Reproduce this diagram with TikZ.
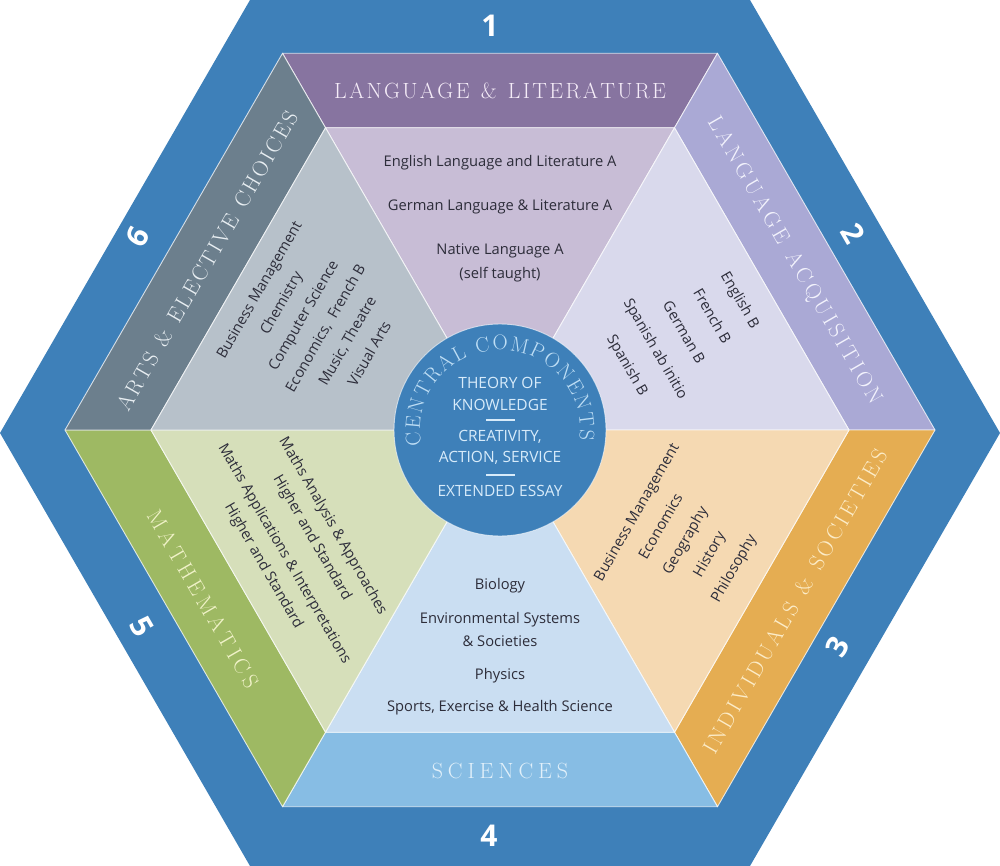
\documentclass[tikz,border=0pt]{standalone}
\usepackage{fontspec}
\newfontfamily\bodyfont{Open Sans}
\usetikzlibrary{decorations.text}
\ExplSyntaxOn
\NewDocumentCommand\spaced{mm}{\str_map_inline:nn{#2}{##1\kern#1\relax}\kern-#1\relax}
\ExplSyntaxOff
\definecolor{hexblue}{RGB}{62,128,185}
\definecolor{bandLL}{RGB}{135,116,160}
\definecolor{triLL}{RGB}{200,189,214}
\definecolor{bandLA}{RGB}{170,169,213}
\definecolor{triLA}{RGB}{217,217,236}
\definecolor{bandIS}{RGB}{229,173,82}
\definecolor{triIS}{RGB}{245,217,178}
\definecolor{bandSCI}{RGB}{135,189,228}
\definecolor{triSCI}{RGB}{202,222,242}
\definecolor{bandMA}{RGB}{158,185,99}
\definecolor{triMA}{RGB}{214,223,186}
\definecolor{bandAR}{RGB}{108,127,141}
\definecolor{triAR}{RGB}{183,193,202}
\definecolor{hdrLL}{RGB}{245,236,248}
\definecolor{hdrLA}{RGB}{242,242,252}
\definecolor{hdrIS}{RGB}{252,236,200}
\definecolor{hdrSCI}{RGB}{225,240,250}
\definecolor{hdrMA}{RGB}{240,242,200}
\definecolor{hdrAR}{RGB}{232,238,242}
\definecolor{bodytxt}{RGB}{45,45,58}
\definecolor{centtxt}{RGB}{215,235,250}
\definecolor{arctxt}{RGB}{190,222,245}
\begin{document}
\begin{tikzpicture}[x=1pt,y=-1pt,
  region/.style={draw=white, draw opacity=0.75, line width=0.9pt, line join=round},
  hdr/.style={inner sep=0pt, font=\rmfamily\fontsize{22}{22}\selectfont},
  body/.style={inner sep=0pt, align=center, text=bodytxt},
  num/.style={inner sep=0pt, text=white, font=\bodyfont\bfseries\fontsize{30}{30}\selectfont},
  centre/.style={inner sep=0pt, align=center, text=centtxt, font=\bodyfont\fontsize{15.5}{21.5}\selectfont},
  rule/.style={draw=centtxt, line width=1.2pt},
]
\useasboundingbox (0,0) rectangle (1000,866);
% outer hexagon
\fill[hexblue] (0,433) -- (250,0) -- (750,0) -- (1000,433) -- (750,866) -- (250,866) -- cycle;
% coordinates
\coordinate (C) at (500,430);
\coordinate (V0) at (935,430);
\coordinate (V1) at (717.5,53.3);
\coordinate (V2) at (282.5,53.3);
\coordinate (V3) at (65,430);
\coordinate (V4) at (282.5,806.7);
\coordinate (V5) at (717.5,806.7);
\coordinate (W0) at (849,430);
\coordinate (W1) at (674.5,127.8);
\coordinate (W2) at (325.5,127.8);
\coordinate (W3) at (151,430);
\coordinate (W4) at (325.5,732.2);
\coordinate (W5) at (674.5,732.2);
% bands
\filldraw[region, fill=bandLL] (V2) -- (V1) -- (W1) -- (W2) -- cycle;
\filldraw[region, fill=bandLA] (V1) -- (V0) -- (W0) -- (W1) -- cycle;
\filldraw[region, fill=bandIS] (V0) -- (V5) -- (W5) -- (W0) -- cycle;
\filldraw[region, fill=bandSCI] (V5) -- (V4) -- (W4) -- (W5) -- cycle;
\filldraw[region, fill=bandMA] (V4) -- (V3) -- (W3) -- (W4) -- cycle;
\filldraw[region, fill=bandAR] (V3) -- (V2) -- (W2) -- (W3) -- cycle;
% triangles
\filldraw[region, fill=triLL] (C) -- (W2) -- (W1) -- cycle;
\filldraw[region, fill=triLA] (C) -- (W1) -- (W0) -- cycle;
\filldraw[region, fill=triIS] (C) -- (W0) -- (W5) -- cycle;
\filldraw[region, fill=triSCI] (C) -- (W5) -- (W4) -- cycle;
\filldraw[region, fill=triMA] (C) -- (W4) -- (W3) -- cycle;
\filldraw[region, fill=triAR] (C) -- (W3) -- (W2) -- cycle;
% central circle
\node[circle, minimum size=212pt, inner sep=0pt, fill=hexblue, draw=white, draw opacity=0.6, line width=0.9pt] (core) at (C) {};
\path[decorate, decoration={text along path, text align={fit to path},
  text={|\rmfamily\fontsize{21}{21}\selectfont\color{arctxt}|CENTRAL COMPONENTS}}]
  (500,430) ++(-191:80) arc[start angle=-191, end angle=7, radius=80];
\node[centre] (tok) at (500,394) {THEORY OF\\KNOWLEDGE};
\node[centre] (cas) at (500,447.5) {CREATIVITY,\\ACTION, SERVICE};
\node[centre] (ee) at (500,491) {EXTENDED ESSAY};
\coordinate (r1a) at (486,420); \coordinate (r1b) at (515,420);
\coordinate (r2a) at (486,475); \coordinate (r2b) at (515,475);
\draw[rule] (r1a) -- (r1b);
\draw[rule] (r2a) -- (r2b);
% headers
\node[hdr, text=hdrLL] (hLL) at (500,91) {\spaced{2.3pt}{LANGUAGE & LITERATURE}};
\node[hdr, text=hdrLA, rotate=-60] (hLA) at (794,261) {\spaced{3.3pt}{LANGUAGE ACQUISITION}};
\node[hdr, text=hdrIS, rotate=60] (hIS) at (795,601) {\spaced{3.2pt}{INDIVIDUALS & SOCIETIES}};
\node[hdr, text=hdrSCI] (hSCI) at (500,771) {\spaced{4.9pt}{SCIENCES}};
\node[hdr, text=hdrMA, rotate=-60] (hMA) at (203,599) {\spaced{4.2pt}{MATHEMATICS}};
\node[hdr, text=hdrAR, rotate=60] (hAR) at (207,261) {\spaced{2.3pt}{ARTS & ELECTIVE CHOICES}};
% numbers
\node[num] (n1) at (490,26) {1};
\node[num, rotate=-60] (n2) at (853,233) {2};
\node[num, rotate=60] (n3) at (837,647) {3};
\node[num] (n4) at (489,836) {4};
\node[num, rotate=-60] (n5) at (142,627) {5};
\node[num, rotate=60] (n6) at (138,237) {6};
% subject lists
\node[body, font=\bodyfont\fontsize{14.7}{24}\selectfont] (sLL) at (500,219)
  {English Language and Literature A\\[20pt]German Language \& Literature A\\[20pt]Native Language A\\(self taught)};
\node[body, rotate=-60, font=\bodyfont\fontsize{14.7}{32.5}\selectfont] (sLA) at (683,333)
  {English B\\French B\\German B\\Spanish ab initio\\Spanish B};
\node[body, rotate=60, font=\bodyfont\fontsize{14.7}{28}\selectfont] (sIS) at (686,541)
  {Business Management\\Economics\\Geography\\History\\Philosophy};
\node[body, font=\bodyfont\fontsize{14.7}{23}\selectfont] (sSCI) at (500,647)
  {Biology\\[11pt]Environmental Systems\\\& Societies\\[10pt]Physics\\[9pt]Sports, Exercise \& Health Science};
\node[body, rotate=-60, font=\bodyfont\fontsize{14.7}{24}\selectfont] (sMA) at (298,546)
  {Maths Analysis \& Approaches\\Higher and Standard\\[8pt]Maths Applications \& Interpretations\\Higher and Standard};
\node[body, rotate=60, font=\bodyfont\fontsize{14.7}{25.5}\selectfont] (sAR) at (314,321.5)
  {Business Management\\Chemistry\\Computer Science\\Economics,\ \ French B\\Music, Theatre\\Visual Arts};
\end{tikzpicture}
\end{document}
